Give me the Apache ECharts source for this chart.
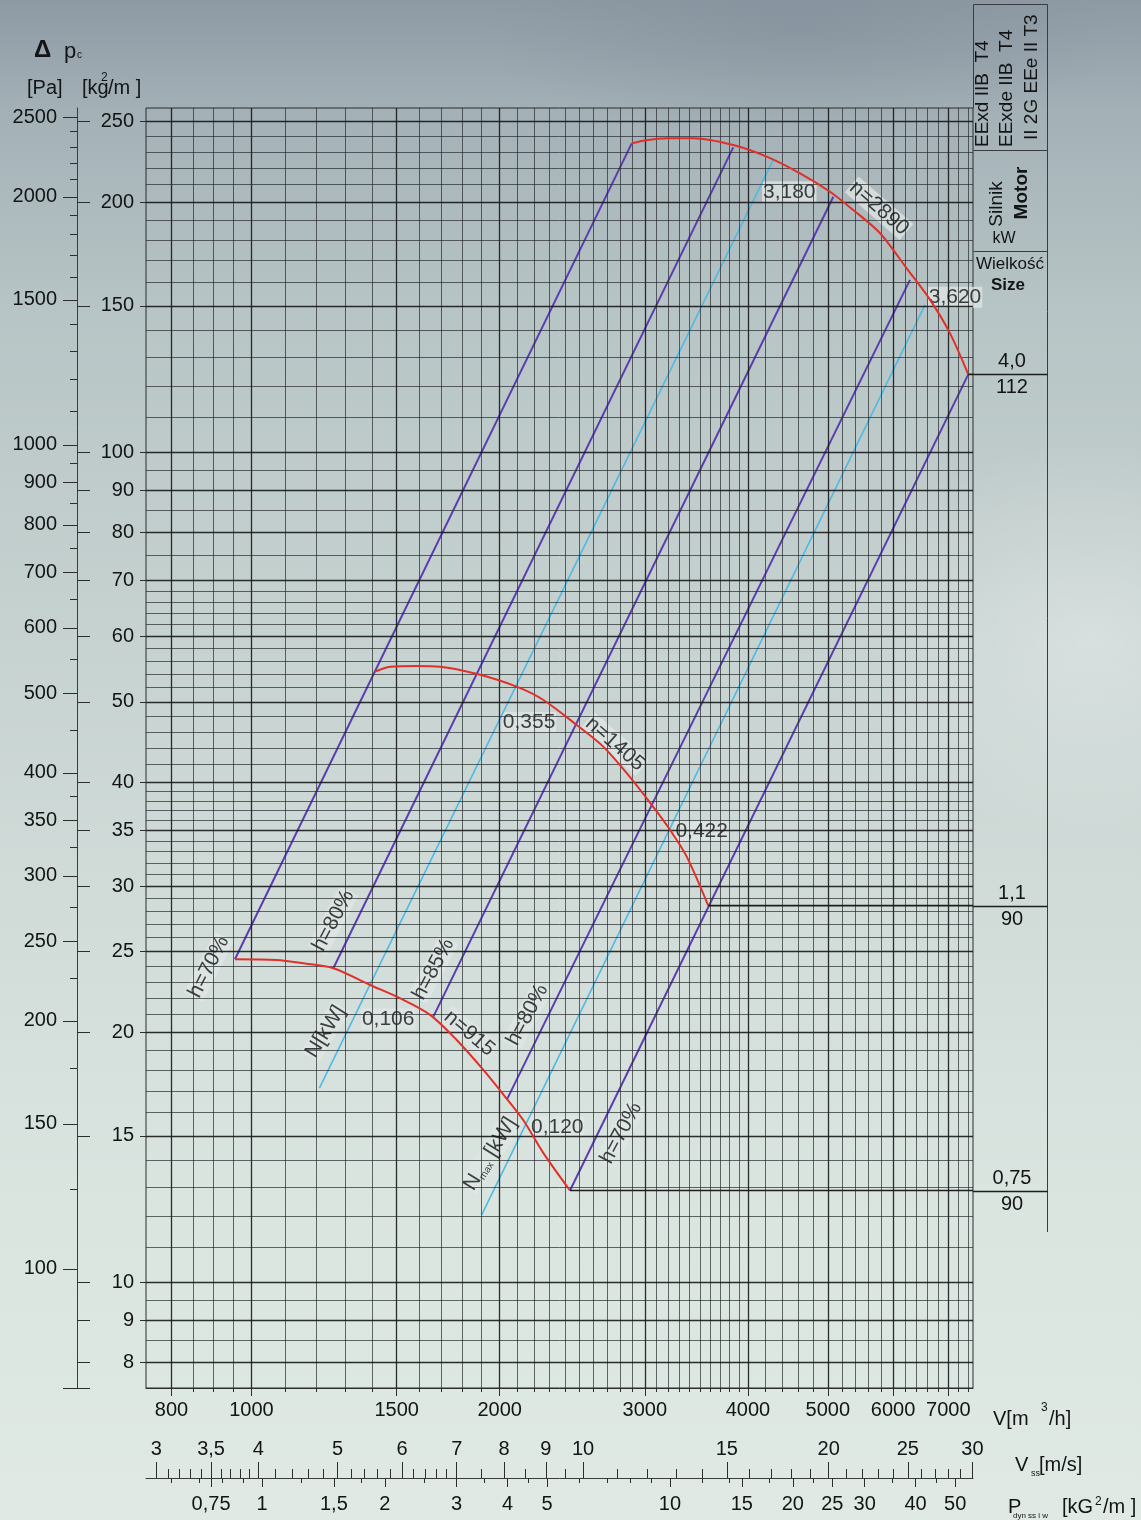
<!DOCTYPE html>
<html lang="pl">
<head>
<meta charset="utf-8">
<title>Charakterystyka wentylatora</title>
<script src="https://cdn.jsdelivr.net/npm/echarts@6.0.0/dist/echarts.min.js"></script>
<style>
html,body{margin:0;padding:0;}
body{width:1141px;height:1520px;overflow:hidden;
background:
 radial-gradient(ellipse 260px 200px at 1090px 640px, rgba(255,255,255,0.30), rgba(255,255,255,0) 100%),
 radial-gradient(ellipse 320px 110px at 800px 30px, rgba(120,132,145,0.35), rgba(120,132,145,0) 100%),
 linear-gradient(180deg,#8d9aa4 0px,#a3b0b6 110px,#b7c4c5 300px,#c5d1cf 600px,#d1dcd9 900px,#dae5e0 1200px,#e0e9e4 1520px);}
#chart{width:1141px;height:1520px;}
</style>
</head>
<body>
<div id="chart"></div>
<script>
// ---------------- scale ranges of the printed axes ----------------
const V_MIN = 745,   V_MAX = 7500;     // V [m3/h]
const PA_MIN = 71.7, PA_MAX = 2564;    // Δp [Pa]
const KG_MIN = 7.453, KG_MAX = 259.7;  // Δp [kG/m2]
const VSS_MIN = 2.913, VSS_MAX = 30.05;// V_ss [m/s]
const PD_MIN = 0.5195, PD_MAX = 55.3;  // P_dyn [kG/m2]

// ---------------- tick labels / grid ----------------
const V_TICKS = [800, 1000, 1500, 2000, 3000, 4000, 5000, 6000, 7000];
const V_GRID = [800, 850, 900, 950, 1000, 1100, 1200, 1300, 1400, 1500, 1600, 1700, 1800, 1900, 2000,
  2100, 2200, 2300, 2400, 2500, 2600, 2700, 2800, 2900, 3000, 3100, 3200, 3300, 3400, 3500, 3600, 3700,
  3800, 3900, 4000, 4200, 4400, 4600, 4800, 5000, 5200, 5400, 5600, 5800, 6000, 6200, 6400, 6600, 6800,
  7000, 7200, 7400];
const PA_TICKS = [100, 150, 200, 250, 300, 350, 400, 500, 600, 700, 800, 900, 1000, 1500, 2000, 2500];
const PA_MINOR = [125, 175, 225, 275, 325, 375, 450, 550, 650, 750, 850, 950, 1100, 1200, 1300, 1400,
  1600, 1700, 1800, 1900, 2100, 2200, 2300, 2400];
const KG_TICKS = [8, 9, 10, 15, 20, 25, 30, 35, 40, 50, 60, 70, 80, 90, 100, 150, 200, 250];
const KG_GRID = [8, 8.5, 9, 9.5, 10, 11, 12, 13, 14, 15, 16, 17, 18, 19, 20, 21, 22, 23, 24, 25, 26, 27,
  28, 29, 30, 31, 32, 33, 34, 35, 36, 37, 38, 39, 40, 42, 44, 46, 48, 50, 52, 54, 56, 58, 60, 62, 64, 66,
  68, 70, 75, 80, 85, 90, 95, 100, 110, 120, 130, 140, 150, 160, 170, 180, 190, 200, 210, 220, 230, 240, 250];
const VSS_TICKS = [3, 3.5, 4, 5, 6, 7, 8, 9, 10, 15, 20, 25, 30];
const VSS_MINOR = [3.1, 3.2, 3.3, 3.4, 3.6, 3.7, 3.8, 3.9, 4.2, 4.4, 4.6, 4.8, 5.2, 5.4, 5.6, 5.8, 6.2, 6.4,
  6.6, 6.8, 7.5, 8.5, 9.5, 11, 12, 13, 14, 16, 17, 18, 19, 21, 22, 23, 24, 26, 27, 28, 29];
const PD_TICKS = [0.75, 1, 1.5, 2, 3, 4, 5, 10, 15, 20, 25, 30, 40, 50];
const PD_MINOR = [0.6, 0.7, 0.8, 0.9, 1.25, 1.75, 2.5, 3.5, 4.5, 6, 7, 8, 9, 12, 14, 17.5, 22.5, 35, 45];

// ---------------- fan curves  (V [m3/h], Δp [Pa]) ----------------
const n915_V = [955, 1073, 1156, 1257, 1393, 1514, 1647, 1774, 1911, 2030, 2136, 2260, 2434];
const n915_P = [237.6, 237.1, 234.9, 231.7, 221.1, 213.1, 203.4, 189.6, 174.4, 161.9, 151.6, 138.2, 124.5];
const n1405_V = [1412, 1473, 1587, 1693, 1884, 2097, 2260, 2480, 2671, 2852, 3058, 3219, 3372, 3581];
const n1405_P = [530.7, 538.2, 539.2, 538.2, 526.8, 508.9, 490.3, 457.2, 430.4, 399.6, 365.7, 341.0, 316.5, 276];
const n2890_V = [2892, 2987, 3189, 3435, 3840, 4215, 4627, 5031, 5368, 5786, 6232, 6653, 7034, 7402];
const n2890_P = [2323, 2340, 2356, 2356, 2312, 2238, 2136, 2029, 1928, 1807, 1638, 1500, 1366, 1218];

// efficiency lines (η) – end points
const eta70L_V = [955, 2892],  eta70L_P = [237.6, 2323];
const eta80L_V = [1257, 3840], eta80L_P = [231.7, 2297];
const eta85_V  = [1662, 5078], eta85_P  = [202.4, 2001];
const eta80R_V = [2040, 6290], eta80R_P = [160.4, 1586];
const eta70R_V = [2434, 7402], eta70R_P = [124.5, 1218];
// power lines
const powN_V    = [1209, 4293], powN_P    = [165.7, 2218];
const powNmax_V = [1902, 6559], powNmax_P = [116.3, 1479];
// motors: line from curve end to right edge
const MOTOR_V = [2434, 3581, 7402];
const MOTOR_P = [124.5, 276, 1218];
const MOTOR_KW = ['0,75', '1,1', '4,0'];
const MOTOR_SIZE = ['90', '90', '112'];

// ---------------- annotation texts ----------------
const ANNOT = [
  {t: 'h=70%', v: 888,  p: 232.6, r: 63},
  {t: 'h=80%', v: 1257, p: 264.7, r: 62},
  {t: 'N[kW]', v: 1230, p: 194.1, r: 58},
  {t: 'h=85%', v: 1662, p: 231.1, r: 62},
  {t: 'h=80%', v: 2161, p: 203.4, r: 62},
  {t: 'N{s|max} [kW]', v: 1948, p: 137.9, r: 58},
  {t: 'h=70%', v: 2807, p: 146.2, r: 62},
  {t: '0,106', v: 1465, p: 201.0, r: 0},
  {t: '0,120', v: 2349, p: 148.8, r: 0},
  {t: '0,355', v: 2171, p: 460.3, r: 0},
  {t: '0,422', v: 3516, p: 339.4, r: 0},
  {t: '3,180', v: 4490, p: 2029, r: 0},
  {t: '3,620', v: 7132, p: 1511, r: 0},
  {t: 'n=915', v: 1838, p: 193.2, r: -40},
  {t: 'n=1405', v: 2760, p: 433.6, r: -41},
  {t: 'n=2890', v: 5770, p: 1938, r: -41}
];

const FONT = "'Liberation Sans', Arial, Helvetica, sans-serif";
const INK = '#121415';
const TICKC = '#2b2d2e';
const RED = '#e0302a', PURPLE = '#5a3eb0', CYAN = '#52b9e2';
const comma = v => String(+Number(v).toPrecision(6)).replace('.', ',');
const plain = v => String(+Number(v).toPrecision(6));
const pairs = (xs, ys) => xs.map((x, i) => [x, ys[i]]);

function logAxis(o) {
  return Object.assign({
    type: 'log', logBase: 10, gridIndex: 0, silent: true,
    axisLine: {show: false, onZero: false},
    axisTick: {show: false},
    axisLabel: {show: false},
    splitLine: {show: false}, minorTick: {show: false}, minorSplitLine: {show: false},
    axisPointer: {show: false}
  }, o);
}
const lbl = (vals, extra) => Object.assign({show: true, customValues: vals, fontFamily: FONT, fontSize: 20, color: INK}, extra);
const tck = (vals, len, extra) => Object.assign({show: true, customValues: vals, length: len, lineStyle: {color: TICKC, width: 1}}, extra);

const chart = echarts.init(document.getElementById('chart'), null, {width: 1141, height: 1520});

function lineSeries(name, data, color, width, z) {
  return {name, type: 'line', data, xAxisIndex: 0, yAxisIndex: 0, showSymbol: false, symbol: 'none',
    silent: true, z: z, lineStyle: {color, width}, emphasis: {disabled: true}};
}

const majorV = new Set(V_TICKS), majorKg = new Set(KG_TICKS);
const GRID_N = {color: 'rgba(38,42,44,0.70)', width: 1, type: 'solid'};
const GRID_M = {color: 'rgba(22,24,25,0.90)', width: 1.3, type: 'solid'};

const option = {
  animation: false,
  backgroundColor: 'transparent',
  grid: {left: 146, right: 168, top: 108, bottom: 132, show: true, borderColor: '#2a2c2d', borderWidth: 1, backgroundColor: 'transparent'},
  xAxis: [
    logAxis({position: 'bottom', min: V_MIN, max: V_MAX,
      axisLine: {show: true, onZero: false, lineStyle: {color: TICKC, width: 1}},
      axisTick: tck(V_TICKS, 8), axisLabel: lbl(V_TICKS, {margin: 12, formatter: plain})}),
    logAxis({position: 'bottom', min: V_MIN, max: V_MAX, axisTick: tck(V_GRID, 4)}),
    logAxis({position: 'bottom', offset: 90, min: VSS_MIN, max: VSS_MAX,
      axisLine: {show: true, onZero: false, lineStyle: {color: '#3a3c3d', width: 1}},
      axisTick: tck(VSS_TICKS, 16, {inside: true}), axisLabel: lbl(VSS_TICKS, {inside: true, margin: 19, formatter: comma})}),
    logAxis({position: 'bottom', offset: 90, min: VSS_MIN, max: VSS_MAX, axisTick: tck(VSS_MINOR, 9, {inside: true})}),
    logAxis({position: 'bottom', offset: 90, min: PD_MIN, max: PD_MAX,
      axisTick: tck(PD_TICKS, 9), axisLabel: lbl(PD_TICKS, {margin: 16, formatter: comma})}),
    logAxis({position: 'bottom', offset: 90, min: PD_MIN, max: PD_MAX, axisTick: tck(PD_MINOR, 5)})
  ],
  yAxis: [
    logAxis({position: 'left', offset: 69, min: PA_MIN, max: PA_MAX,
      axisLine: {show: true, onZero: false, lineStyle: {color: '#3a3c3d', width: 1}},
      axisTick: tck(PA_TICKS, 14), axisLabel: lbl(PA_TICKS, {margin: 20, formatter: plain})}),
    logAxis({position: 'left', offset: 69, min: PA_MIN, max: PA_MAX, axisTick: tck(PA_MINOR, 7)}),
    logAxis({position: 'left', offset: 69, min: KG_MIN, max: KG_MAX, axisTick: tck(KG_TICKS, 13, {inside: true})}),
    logAxis({position: 'left', offset: 0, min: KG_MIN, max: KG_MAX,
      axisTick: tck(KG_TICKS, 6), axisLabel: lbl(KG_TICKS, {margin: 12, formatter: plain})})
  ],
  series: [
    {name: 'gridV', type: 'line', xAxisIndex: 0, yAxisIndex: 0, data: [], silent: true, z: 1,
      markLine: {silent: true, symbol: ['none', 'none'], animation: false, label: {show: false}, emphasis: {disabled: true},
        lineStyle: GRID_N,
        data: V_GRID.map(v => ({xAxis: v, lineStyle: majorV.has(v) ? GRID_M : GRID_N}))}},
    {name: 'gridH', type: 'line', xAxisIndex: 0, yAxisIndex: 2, data: [], silent: true, z: 1,
      markLine: {silent: true, symbol: ['none', 'none'], animation: false, label: {show: false}, emphasis: {disabled: true},
        lineStyle: GRID_N,
        data: KG_GRID.map(v => ({yAxis: v, lineStyle: majorKg.has(v) ? GRID_M : GRID_N}))}},
    lineSeries('N', pairs(powN_V, powN_P), CYAN, 1.6, 3),
    lineSeries('Nmax', pairs(powNmax_V, powNmax_P), CYAN, 1.6, 3),
    lineSeries('eta70L', pairs(eta70L_V, eta70L_P), PURPLE, 2, 4),
    lineSeries('eta80L', pairs(eta80L_V, eta80L_P), PURPLE, 2, 4),
    lineSeries('eta85', pairs(eta85_V, eta85_P), PURPLE, 2, 4),
    lineSeries('eta80R', pairs(eta80R_V, eta80R_P), PURPLE, 2, 4),
    lineSeries('eta70R', pairs(eta70R_V, eta70R_P), PURPLE, 2, 4),
    Object.assign(lineSeries('n915', pairs(n915_V, n915_P), RED, 2, 5), {smooth: 0.3}),
    Object.assign(lineSeries('n1405', pairs(n1405_V, n1405_P), RED, 2, 5), {smooth: 0.3}),
    Object.assign(lineSeries('n2890', pairs(n2890_V, n2890_P), RED, 2, 5), {smooth: 0.3}),
    ...MOTOR_V.map((v, i) => lineSeries('motor' + i, [[v, MOTOR_P[i]], [V_MAX, MOTOR_P[i]]], '#1e1e1e', 1.6, 6)),
    {name: 'labels', type: 'scatter', xAxisIndex: 0, yAxisIndex: 0, symbolSize: 1, silent: true, z: 2,
      itemStyle: {color: 'rgba(0,0,0,0)'},
      label: {show: true, position: 'inside', fontFamily: FONT, fontSize: 21, color: INK,
        backgroundColor: 'rgba(224,231,229,0.93)', padding: [0, 1, 0, 1],
        rich: {s: {fontFamily: FONT, fontSize: 10, color: INK, verticalAlign: 'bottom', padding: [12, 0, 0, 0]}}},
      data: ANNOT.map(a => ({value: [a.v, a.p], label: {formatter: a.t, rotate: a.r}}))}
  ]
};
chart.setOption(option);

// ---------------- decorations: titles, motor table ----------------
function txt(text, x, y, size, o) {
  o = o || {};
  const align = o.align || 'left', va = o.va || 'middle';
  return {type: 'text', x, y, rotation: o.rot || 0, z: 100, silent: true,
    style: {text, fill: INK, font: (o.bold ? 'bold ' : '') + size + 'px ' + FONT,
      align, textAlign: align, verticalAlign: va, textVerticalAlign: va}};
}
function ln(x1, y1, x2, y2, w, c) {
  return {type: 'line', z: 100, silent: true, shape: {x1, y1, x2, y2}, style: {stroke: c || '#3a3c3d', lineWidth: w || 1}};
}
const R90 = Math.PI / 2;
const g = [];
// axis titles
g.push(txt('Δ', 34, 50, 24, {bold: true}));
g.push(txt('p', 64, 52, 22));
g.push(txt('c', 77, 55, 10));
g.push(txt('[Pa]', 27, 88, 20));
g.push(txt('[kg', 82, 88, 20));
g.push(txt('2', 101, 78, 12));
g.push(txt('/m ]', 108, 88, 20));
g.push(ln(63, 1388.5, 90, 1388.5, 1, TICKC));
// bottom right axis names
g.push(txt('V[m', 993, 1419, 20));
g.push(txt('3', 1041, 1408, 12));
g.push(txt('/h]', 1049, 1419, 20));
g.push(txt('V', 1015, 1465, 20));
g.push(txt('ss', 1031, 1474, 9));
g.push(txt('[m/s]', 1039, 1465, 20));
g.push(txt('P', 1008, 1507, 20));
g.push(txt('dyn ss i w', 1013, 1516, 8));
g.push(txt('[kG', 1062, 1507, 20));
g.push(txt('2', 1095, 1502, 12));
g.push(txt('/m ]', 1103, 1507, 20));
// motor table frame
g.push(ln(973.5, 4.5, 1047.5, 4.5));
g.push(ln(973.5, 4.5, 973.5, 108));
g.push(ln(1047.5, 4.5, 1047.5, 1232));
g.push(ln(973.5, 150.5, 1047.5, 150.5));
g.push(ln(973.5, 251.5, 1047.5, 251.5));
g.push(txt('EExd IIB  T4', 983, 147, 19, {rot: R90}));
g.push(txt('EExde IIB  T4', 1007, 147, 19, {rot: R90}));
g.push(txt('II 2G EEe II T3', 1032, 140, 19, {rot: R90}));
g.push(txt('Silnik', 997, 204, 19, {rot: R90, align: 'center'}));
g.push(txt('Motor', 1022, 193, 19, {rot: R90, align: 'center', bold: true}));
g.push(txt('kW', 1004, 239, 16, {align: 'center'}));
g.push(txt('Wielkość', 1010, 264, 17, {align: 'center'}));
g.push(txt('Size', 1008, 285, 17, {align: 'center', bold: true}));
MOTOR_P.forEach((p, i) => {
  const y = Math.round(chart.convertToPixel({yAxisIndex: 0}, p)) + 0.5;
  g.push(ln(973, y, 1047.5, y, 1.6, '#1e1e1e'));
  g.push(txt(MOTOR_KW[i], 1012, y - 13, 20, {align: 'center'}));
  g.push(txt(MOTOR_SIZE[i], 1012, y + 13, 20, {align: 'center'}));
});
chart.setOption({graphic: g});
</script>
</body>
</html>
